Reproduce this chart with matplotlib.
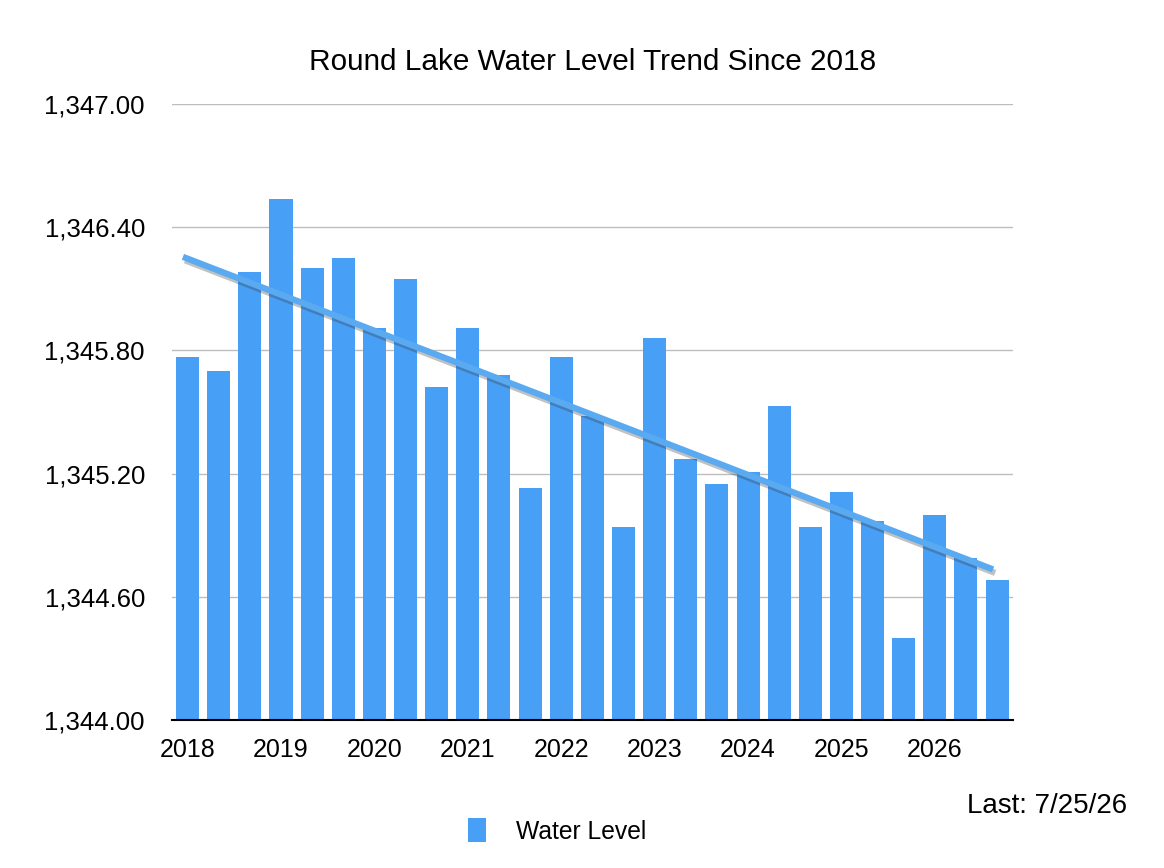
import numpy as np
import matplotlib
matplotlib.use("Agg")
import matplotlib.pyplot as plt
import matplotlib.patheffects as pe

plt.rcParams['font.family'] = ['Liberation Sans', 'DejaVu Sans']

# Water level readings, 3 per year from 2018
years = ["2018", "2019", "2020", "2021", "2022", "2023", "2024", "2025", "2026"]
levels = [1345.77, 1345.70, 1346.18, 1346.54, 1346.20, 1346.25, 1345.91, 1346.15, 1345.62,
          1345.91, 1345.68, 1345.13, 1345.77, 1345.48, 1344.94, 1345.86, 1345.27, 1345.15,
          1345.21, 1345.53, 1344.94, 1345.11, 1344.97, 1344.40, 1345.00, 1344.79, 1344.68]
y_ticks = [1344.0, 1344.6, 1345.2, 1345.8, 1346.4, 1347.0]

BAR_COLOR = '#489ff6'
LINE_COLOR = '#5aaaf2'

fig = plt.figure(figsize=(11.64, 8.68), dpi=100)
ax = fig.add_axes([0.1478, 0.1705, 0.7222, 0.7095])

x = np.arange(len(levels))
ax.bar(x, levels, width=0.74, color=BAR_COLOR, zorder=2, label='Water Level')

# linear trend
slope, icpt = np.polyfit(x, levels, 1)
tx = np.array([x[0] - 0.15, x[-1] - 0.13])
ax.plot(tx, slope * tx + icpt, color=LINE_COLOR, lw=4.5, zorder=3, solid_capstyle='butt',
        path_effects=[pe.SimpleLineShadow(offset=(1.5, -2.5), shadow_color='#333333', alpha=0.3),
                      pe.Normal()])

ax.set_xlim(-0.5, len(levels) - 0.5)
ax.set_ylim(1344.0, 1347.0)
ax.set_yticks(y_ticks)
ax.set_yticklabels([f"{v:,.2f}" for v in y_ticks])
ax.set_xticks(x[::3])
ax.set_xticklabels(years)
ax.tick_params(axis='both', length=0, colors='black')
ax.tick_params(axis='y', pad=19.5, labelsize=18.5)
ax.tick_params(axis='x', pad=13, labelsize=18)

ax.grid(axis='y', color='#bdbdbd', lw=1, zorder=0)
for s in ['top', 'right', 'left']:
    ax.spines[s].set_visible(False)
ax.spines['bottom'].set_color('black')
ax.spines['bottom'].set_linewidth(1.5)
ax.spines['bottom'].set_zorder(4)

fig.text(0.509, 0.928, "Round Lake Water Level Trend Since 2018", ha='center', va='center', fontsize=21.4)
fig.text(0.968, 0.0714, "Last: 7/25/26", ha='right', va='center', fontsize=20)

fig.legend(loc='center', bbox_to_anchor=(0.4785, 0.0426), frameon=False, fontsize=17.7,
           handlelength=0.73, handleheight=1.1, handletextpad=1.2)

fig.savefig("out.png", dpi=100)
